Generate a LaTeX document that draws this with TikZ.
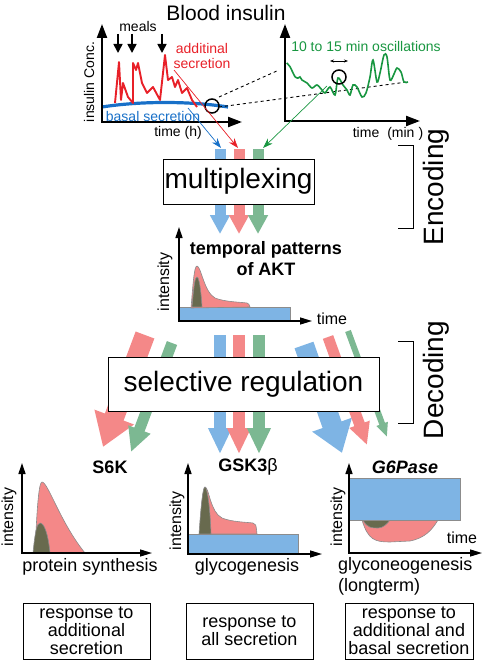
\documentclass[tikz,border=0pt]{standalone}
\usepackage{fontspec}
\setmainfont{Liberation Sans}
\usetikzlibrary{arrows.meta}

\definecolor{sininen}{RGB}{126,180,228}
\definecolor{punainen}{RGB}{244,136,136}
\definecolor{vihrea}{RGB}{124,184,146}
\definecolor{tumma}{RGB}{104,106,78}
\definecolor{reunus}{RGB}{140,140,140}
\definecolor{puna}{RGB}{232,32,40}
\definecolor{viher}{RGB}{24,150,64}
\definecolor{sini}{RGB}{24,112,200}

\newcommand{\koko}[1]{\fontsize{#1}{#1}\selectfont}

\begin{document}
\begin{tikzpicture}[x=1pt, y=-1pt,
    akseli/.style={line width=2.2pt, {Triangle[length=14pt, width=10pt]}-{Triangle[length=14pt, width=10pt]}},
    pieniakseli/.style={line width=1.3pt, {Triangle[length=11pt, width=7pt]}-{Triangle[length=12pt, width=7pt]}},
    ateria/.style={line width=1.6pt, -{Triangle[length=9pt, width=9pt]}},
    nuoli/.style n args={3}{line width=#1, -{Triangle[width=#2, length=#3]}},
    ohut/.style={line width=0.7pt, -{Stealth[length=10pt, width=7pt]}},
    laatikko/.style={draw, line width=0.8pt, fill=white, inner sep=0pt},
    kayra/.style={draw=reunus, line width=0.6pt},
    teksti/.style={inner sep=0pt, font=\koko{#1}}]

  \useasboundingbox (0,0) rectangle (484,666);

  % Veren insuliini
  \node[teksti=21] (veri) at (226,13) {Blood insulin};

  % Vasen kuvaaja
  \draw[sini, line width=3.2pt] (102,107) .. controls (140,101) and (190,101) .. (228,107);
  \draw[puna, line width=1.9pt, line join=round] (115,103) -- (119,62) -- (121,100) -- (123,83)
    -- (128,97) -- (133,103) -- (133,63) -- (136,70) -- (138,63) -- (142,83) -- (147,93)
    -- (153,87) -- (160,100) -- (165,55) -- (168,80) -- (172,77) -- (175,87) -- (178,80)
    -- (182,93) -- (187,88) -- (192,100) -- (197,107);
  \draw[akseli] (102,24) -- (102,122) -- (242,122);
  \node[teksti=14, rotate=90] (konsentraatio) at (89,82) {insulin Conc.};
  \node[teksti=14] (ateriat) at (138,26) {meals};
  \foreach \x in {118,132,162}
    \draw[ateria] (\x,34) -- (\x,53);
  \node[inner sep=0pt, font=\fontsize{14}{15}\selectfont, text=puna, align=center] (lisaeritys) at (202,56) {additinal\\secretion};
  \node[teksti=14, text=sini] (perus) at (153,116) {basal secretion};
  \node[teksti=14] (aikah) at (178,133) {time (h)};
  \draw[line width=1.5pt] (212,106) circle (7pt);

  % Katkoviivat
  \draw[dashed, line width=0.9pt] (219,97) -- (279,70);
  \draw[dashed, line width=0.9pt] (219,107) -- (407,82);

  % Oikea kuvaaja
  \draw[akseli] (285,24) -- (285,121) -- (420,121);
  \node[teksti=14, text=viher] (oskillaatio) at (366,46) {10 to 15 min oscillations};
  \draw[viher, line width=1.6pt] plot[smooth, tension=0.5] coordinates {(286.7,63) (290,66.7)
    (295,76.7) (298,78) (300,77) (302,80) (307,83) (312,88) (317,85) (322,90) (325,93)
    (330,87) (335,95) (338,78) (343,85) (347,90) (350,95) (353,85) (357,87) (362,97)
    (366,93) (370,77) (373,60) (377,82) (380,73) (384,55) (387,57) (390,80) (394,74)
    (397,68) (401,72) (404,82) (408,82)};
  \draw[line width=1.5pt] (339,77) circle (7pt);
  \draw[line width=0.6pt, {Stealth[length=4pt]}-{Stealth[length=4pt]}] (330,61) -- (348,61);
  \node[teksti=14] (aikamin) at (388,134) {time\hspace{8pt}(min\hspace{4pt})};

  % Ohuet nuolet
  \path (188,108) coordinate (sinia) (221,148) coordinate (sinib)
        (174,70) coordinate (punaa) (238,148) coordinate (punab)
        (327,86) coordinate (vihra) (263,148) coordinate (vihrb);
  \draw[ohut, sini] (sinia) -- (sinib);
  \draw[ohut, puna] (punaa) -- (punab);
  \draw[ohut, viher] (vihra) -- (vihrb);

  % Koodaus
  \foreach \x/\v [count=\i] in {220/sininen,239/punainen,258/vihrea} {
    \coordinate (yla\i) at (\x,149);
    \coordinate (ala\i) at (\x,234);
    \draw[nuoli={11pt}{19pt}{19pt}, draw=\v] (yla\i) -- (ala\i);
  }
  \node[laatikko, minimum width=151pt, minimum height=45pt, font=\koko{28}] (multiplex) at (238.5,181.5) {multiplexing};
  \draw[line width=0.8pt] (398,145) -- (413,145) -- (413,228) -- (398,228);
  \node[teksti=28, rotate=90, anchor=base] (koodaus) at (443,187) {Encoding};

  % AKT:n kuvaaja
  \draw[kayra, fill=sininen] (179,307) rectangle (290,321);
  \draw[kayra, fill=punainen] (191,308) .. controls (193,285) and (194,266) .. (197,266)
    .. controls (201,266) and (204,292) .. (215,298) .. controls (225,302) and (240,302) .. (247,303)
    .. controls (249,304) .. (250,307) -- cycle;
  \draw[kayra, fill=tumma] (192,307) .. controls (194,285) and (195,277) .. (197,277)
    .. controls (199,277) and (201,290) .. (202,307) -- cycle;
  \draw[pieniakseli] (179,227) -- (179,321) -- (312,321);
  \node[teksti=16, rotate=90] (int0) at (165,282) {intensity};
  \node[inner sep=0pt, align=center, font=\fontsize{18}{21}\selectfont\bfseries] (akt) at (266,259) {temporal patterns\\of AKT};
  \node[teksti=16] (aika0) at (332,319) {time};

  % Dekoodaus
  \foreach \x/\v [count=\i] in {220/sininen,239/punainen,259/vihrea} {
    \coordinate (dyla\i) at (\x,335);
    \coordinate (dala\i) at (\x,454);
    \draw[nuoli={12pt}{22pt}{26pt}, draw=\v] (dyla\i) -- (dala\i);
  }
  \path (145,335) coordinate (vpa) (103,447) coordinate (vpb)
        (172,343) coordinate (vva) (131,452) coordinate (vvb)
        (304,345) coordinate (osa) (342,453) coordinate (osb)
        (328,337) coordinate (opa) (367,445) coordinate (opb)
        (348,331) coordinate (ova) (387,437) coordinate (ovb);
  \draw[nuoli={20pt}{40pt}{32pt}, draw=punainen] (vpa) -- (vpb);
  \draw[nuoli={11pt}{22pt}{24pt}, draw=vihrea] (vva) -- (vvb);
  \draw[nuoli={20pt}{40pt}{30pt}, draw=sininen] (osa) -- (osb);
  \draw[nuoli={11pt}{20pt}{22pt}, draw=punainen] (opa) -- (opb);
  \draw[nuoli={6pt}{11pt}{14pt}, draw=vihrea] (ova) -- (ovb);
  \node[laatikko, minimum width=271pt, minimum height=54pt, font=\koko{28}] (valikoiva) at (243.5,384) {selective regulation};
  \draw[line width=0.8pt] (398,341) -- (413,341) -- (413,423) -- (398,423);
  \node[teksti=28, rotate=90, anchor=base] (dekoodaus) at (443,380) {Decoding};

  % S6K
  \draw[kayra, fill=punainen] (35,553) .. controls (37,505) and (39,482) .. (42,482)
    .. controls (48,482) and (60,522) .. (85,553) -- cycle;
  \draw[kayra, fill=tumma] (33,553) .. controls (35,532) and (37,523) .. (40,523)
    .. controls (44,523) and (48,533) .. (50,553) -- cycle;
  \draw[pieniakseli] (22,463) -- (22,553) -- (152,553);
  \node[teksti=16, rotate=90] (int1) at (9,517) {intensity};
  \node[teksti=18] (s6k) at (110,467) {\bfseries S6K};
  \node[teksti=18] (proteiini) at (90,567) {protein synthesis};

  % GSK3b
  \draw[kayra, fill=sininen] (188,534) rectangle (298,554);
  \draw[kayra, fill=punainen] (200,534) .. controls (201,505) and (203,487) .. (205,487)
    .. controls (209,487) and (210,512) .. (222,518) .. controls (232,522) and (245,522) .. (253,523)
    .. controls (256,524) .. (257,534) -- cycle;
  \draw[kayra, fill=tumma] (199,534) .. controls (201,505) and (203,487) .. (205,487)
    .. controls (207,487) and (210,505) .. (211,534) -- cycle;
  \draw[pieniakseli] (188,463) -- (188,554) -- (322,554);
  \node[teksti=16, rotate=90] (int2) at (177,521) {intensity};
  \node[teksti=18] (gsk) at (248,467) {\bfseries GSK3\mdseries β};
  \node[teksti=18] (glykogeneesi) at (247,567) {glycogenesis};

  % G6Pase
  \draw[kayra, fill=punainen] (362,520) .. controls (368,540) and (375,542) .. (390,542)
    -- (410,541) .. controls (425,538) and (432,530) .. (438,520) -- cycle;
  \draw[kayra, fill=tumma] (363,520) .. controls (367,528) and (372,528) .. (378,528)
    .. controls (383,528) and (387,524) .. (390,520) -- cycle;
  \draw[kayra, fill=sininen] (349,478) rectangle (460,520);
  \draw[pieniakseli] (349,463) -- (349,553) -- (482,553);
  \node[teksti=16, rotate=90] (int3) at (338,517) {intensity};
  \node[teksti=16] (aika3) at (462,538) {time};
  \node[teksti=18] (g6p) at (405,467) {\bfseries\itshape G6Pase};
  \node[inner sep=0pt, anchor=west, align=left, font=\fontsize{18}{21}\selectfont] (glukoneo) at (338,576) {glyconeogenesis\\(longterm)};

  % Vasteet
  \node[laatikko, minimum width=127pt, minimum height=56pt, align=center, font=\koko{18}] (vaste1) at (86.5,631) {response to\\additional\\secretion};
  \node[laatikko, minimum width=127pt, minimum height=56pt, align=center, font=\koko{18}] (vaste2) at (249.5,631) {response to\\all secretion};
  \node[laatikko, minimum width=128pt, minimum height=56pt, align=center, font=\koko{18}] (vaste3) at (409,631) {response to\\additional and\\basal secretion};
\end{tikzpicture}
\end{document}
